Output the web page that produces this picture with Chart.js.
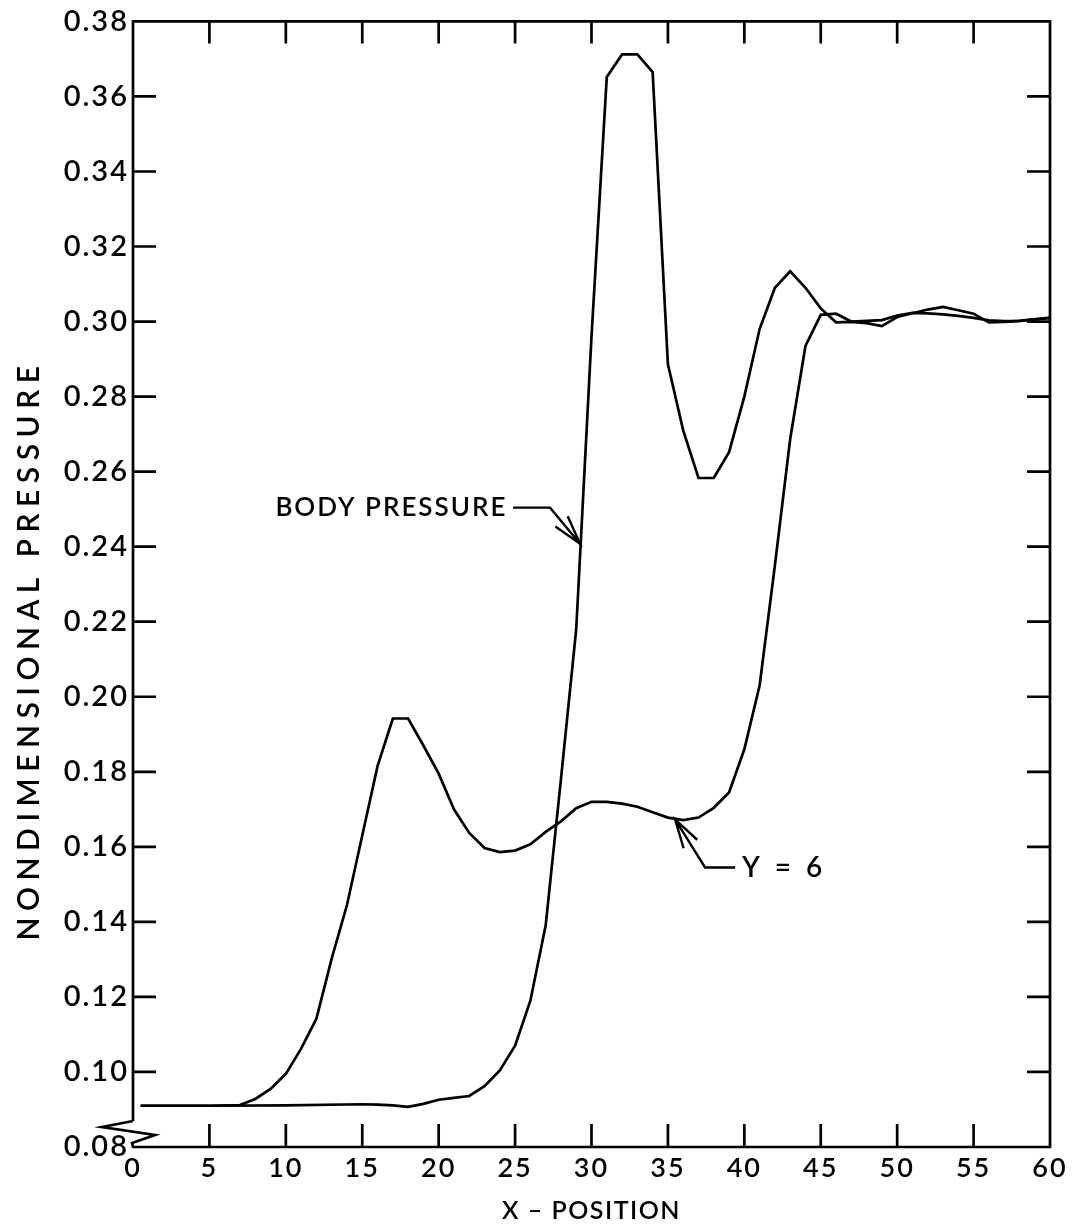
<!DOCTYPE html>
<html>
<head>
<meta charset="utf-8">
<title>Nondimensional pressure vs X position</title>
<script src="https://cdn.jsdelivr.net/npm/chart.js@4.4.0/dist/chart.umd.min.js"></script>
<style>
  html, body { margin: 0; padding: 0; background: #ffffff; }
  #wrap { width: 1074px; height: 1230px; }
</style>
</head>
<body>
<div id="wrap"><canvas id="c" width="1074" height="1230"></canvas></div>
<script>
// ---- axis ticks ----
const xTickValues = [0, 5, 10, 15, 20, 25, 30, 35, 40, 45, 50, 55, 60];
const yTickValues = [0.08, 0.10, 0.12, 0.14, 0.16, 0.18, 0.20, 0.22, 0.24, 0.26, 0.28, 0.30, 0.32, 0.34, 0.36, 0.38];

// ---- body pressure ----
const bodyX = [0.5, 5, 10, 15, 16, 17, 18, 19, 20, 21, 22, 23, 24, 25, 26, 27, 28, 29, 30,
               31, 32, 33, 34, 35, 36, 37, 38, 39, 40, 41, 42, 43, 44, 45, 46, 47, 48, 49, 50,
               51, 52, 53, 54, 55, 56, 57, 58, 59, 60];
const bodyY = [0.0910, 0.0910, 0.0911, 0.0914, 0.0913, 0.0911, 0.0907, 0.0915, 0.0926, 0.0931,
               0.0936, 0.0962, 0.1004, 0.1070, 0.1190, 0.1390, 0.1780, 0.2180, 0.2960,
               0.3652, 0.3712, 0.3712, 0.3665, 0.2886, 0.2710, 0.2583, 0.2583, 0.2652, 0.2800,
               0.2980, 0.3090, 0.3134, 0.3090, 0.3035, 0.2998, 0.2999, 0.2996, 0.2988, 0.3012,
               0.3022, 0.3032, 0.3039, 0.3030, 0.3021, 0.2998, 0.2999, 0.3002, 0.3006, 0.3010];

// ---- Y = 6 ----
const y6X = [0.5, 5, 7, 8, 9, 10, 11, 12, 13, 14, 15, 16, 17, 18, 19, 20, 21, 22, 23, 24, 25,
             26, 27, 28, 29, 30, 31, 32, 33, 34, 35, 36, 37, 38, 39, 40, 41, 42, 43, 44, 45,
             46, 47, 48, 49, 50, 51, 52, 53, 54, 55, 56, 57, 58, 59, 60];
const y6Y = [0.0910, 0.0910, 0.0912, 0.0928, 0.0955, 0.0995, 0.1062, 0.1142, 0.1302, 0.1445,
             0.1630, 0.1815, 0.1942, 0.1942, 0.1870, 0.1795, 0.1700, 0.1637, 0.1597, 0.1586,
             0.1590, 0.1607, 0.1640, 0.1668, 0.1703, 0.1720, 0.1720, 0.1715, 0.1707, 0.1692,
             0.1678, 0.1671, 0.1678, 0.1704, 0.1745, 0.1860, 0.2030, 0.2350, 0.2687, 0.2935,
             0.3018, 0.3021, 0.3000, 0.3002, 0.3004, 0.3016, 0.3023, 0.3022, 0.3019, 0.3015,
             0.3010, 0.3003, 0.3001, 0.3002, 0.3006, 0.3010];

// ---- labels ----
const xTitle = 'X \u2013 POSITION';
const yTitle = 'NONDIMENSIONAL PRESSURE';
const bodyLabel = 'BODY PRESSURE';
const y6Label = 'Y = 6';

// callout geometry in data units: text anchor, leader start, elbow, arrow tip
const callouts = [
  { text: bodyLabel, align: 'right', textAt: [24.50, 0.2504], start: [24.87, 0.2504], elbow: [27.29, 0.2504], tip: [29.25, 0.2408], size: 26, spacing: 2 },
  { text: y6Label,   align: 'left',  textAt: [39.85, 0.1545], start: [39.40, 0.1545], elbow: [37.43, 0.1545], tip: [35.47, 0.1673], size: 28, spacing: 4 }
];

const FONT = 'Lato, "DejaVu Sans", "Liberation Sans", sans-serif';
Chart.defaults.font.family = FONT;
Chart.defaults.font.weight = '600';
Chart.defaults.color = '#000000';

const toPts = (xs, ys) => xs.map((v, i) => ({ x: v, y: ys[i] }));

// white page, frame with axis break, inward ticks, titles and callouts
const decor = {
  id: 'decor',
  beforeDraw(chart) {
    const ctx = chart.ctx;
    ctx.save();
    ctx.fillStyle = '#ffffff';
    ctx.fillRect(0, 0, chart.width, chart.height);
    ctx.restore();
    ctx.letterSpacing = '2px';
  },
  afterDraw(chart) {
    const { ctx, chartArea: a } = chart;
    const xs = chart.scales.x, ys = chart.scales.y;
    ctx.save();
    ctx.strokeStyle = '#000000';
    ctx.fillStyle = '#000000';
    ctx.lineWidth = 2.7;
    ctx.lineJoin = 'miter';

    // frame, with the zigzag break near the origin on the left axis
    ctx.beginPath();
    ctx.moveTo(a.left, a.bottom - 26);
    ctx.lineTo(a.left, a.top);
    ctx.lineTo(a.right, a.top);
    ctx.lineTo(a.right, a.bottom);
    ctx.lineTo(a.left, a.bottom);
    ctx.lineTo(a.left - 1, a.bottom - 4);
    ctx.lineTo(a.left + 22, a.bottom - 12);
    ctx.lineTo(a.left - 31, a.bottom - 20);
    ctx.lineTo(a.left, a.bottom - 26);
    ctx.stroke();

    // inward ticks on all four sides
    ctx.beginPath();
    yTickValues.slice(1, -1).forEach(v => {
      const py = ys.getPixelForValue(v);
      ctx.moveTo(a.left, py); ctx.lineTo(a.left + 23, py);
      ctx.moveTo(a.right, py); ctx.lineTo(a.right - 23, py);
    });
    xTickValues.slice(1, -1).forEach(v => {
      const px = xs.getPixelForValue(v);
      ctx.moveTo(px, a.bottom); ctx.lineTo(px, a.bottom - 23);
      ctx.moveTo(px, a.top); ctx.lineTo(px, a.top + 22);
    });
    ctx.stroke();

    // axis titles
    ctx.textBaseline = 'middle';
    ctx.textAlign = 'center';
    ctx.font = '600 25px ' + FONT;
    ctx.letterSpacing = '1.5px';
    ctx.fillText(xTitle, (a.left + a.right) / 2, a.bottom + 64);
    ctx.save();
    ctx.translate(29, 650);
    ctx.rotate(-Math.PI / 2);
    ctx.font = '600 30px ' + FONT;
    ctx.letterSpacing = '6.5px';
    ctx.fillText(yTitle, 0, 0);
    ctx.restore();

    // callouts with arrows
    ctx.lineWidth = 2.4;
    callouts.forEach(c => {
      const P = p => [xs.getPixelForValue(p[0]), ys.getPixelForValue(p[1])];
      const s = P(c.start), e = P(c.elbow), t = P(c.tip), ta = P(c.textAt);
      ctx.beginPath();
      ctx.moveTo(s[0], s[1]); ctx.lineTo(e[0], e[1]); ctx.lineTo(t[0], t[1]);
      const ang = Math.atan2(e[1] - t[1], e[0] - t[0]);
      const len = 30, spread = 0.27;
      ctx.moveTo(t[0] + len * Math.cos(ang - spread), t[1] + len * Math.sin(ang - spread));
      ctx.lineTo(t[0], t[1]);
      ctx.lineTo(t[0] + len * Math.cos(ang + spread), t[1] + len * Math.sin(ang + spread));
      ctx.stroke();
      ctx.font = '600 ' + c.size + 'px ' + FONT;
      ctx.letterSpacing = c.spacing + 'px';
      ctx.textAlign = c.align;
      ctx.textBaseline = 'middle';
      ctx.fillText(c.text, ta[0], ta[1]);
    });
    ctx.restore();
  }
};

new Chart(document.getElementById('c'), {
  type: 'scatter',
  data: {
    datasets: [
      {
        label: bodyLabel,
        data: toPts(bodyX, bodyY),
        showLine: true,
        borderColor: '#000000',
        borderWidth: 2.7,
        pointRadius: 0,
        tension: 0
      },
      {
        label: y6Label,
        data: toPts(y6X, y6Y),
        showLine: true,
        borderColor: '#000000',
        borderWidth: 2.7,
        pointRadius: 0,
        tension: 0
      }
    ]
  },
  options: {
    responsive: false,
    animation: false,
    devicePixelRatio: 1,
    layout: { padding: { top: 21, right: 24, left: 0, bottom: 0 } },
    plugins: { legend: { display: false }, tooltip: { enabled: false } },
    scales: {
      x: {
        type: 'linear',
        min: 0, max: 60,
        grid: { display: false, drawTicks: false },
        border: { display: false },
        ticks: { font: { size: 27, weight: '600' }, color: '#000000', padding: 5, maxRotation: 0, autoSkip: false },
        afterBuildTicks: s => { s.ticks = xTickValues.map(v => ({ value: v })); },
        afterFit: s => { s.height = 83; }
      },
      y: {
        type: 'linear',
        min: 0.08, max: 0.38,
        grid: { display: false, drawTicks: false },
        border: { display: false },
        ticks: { font: { size: 29, weight: '600' }, color: '#000000', padding: 4, autoSkip: false,
                 callback: v => Number(v).toFixed(2) },
        afterBuildTicks: s => { s.ticks = yTickValues.map(v => ({ value: v })); },
        afterFit: s => { s.width = 133; }
      }
    }
  },
  plugins: [decor]
});
</script>
</body>
</html>
